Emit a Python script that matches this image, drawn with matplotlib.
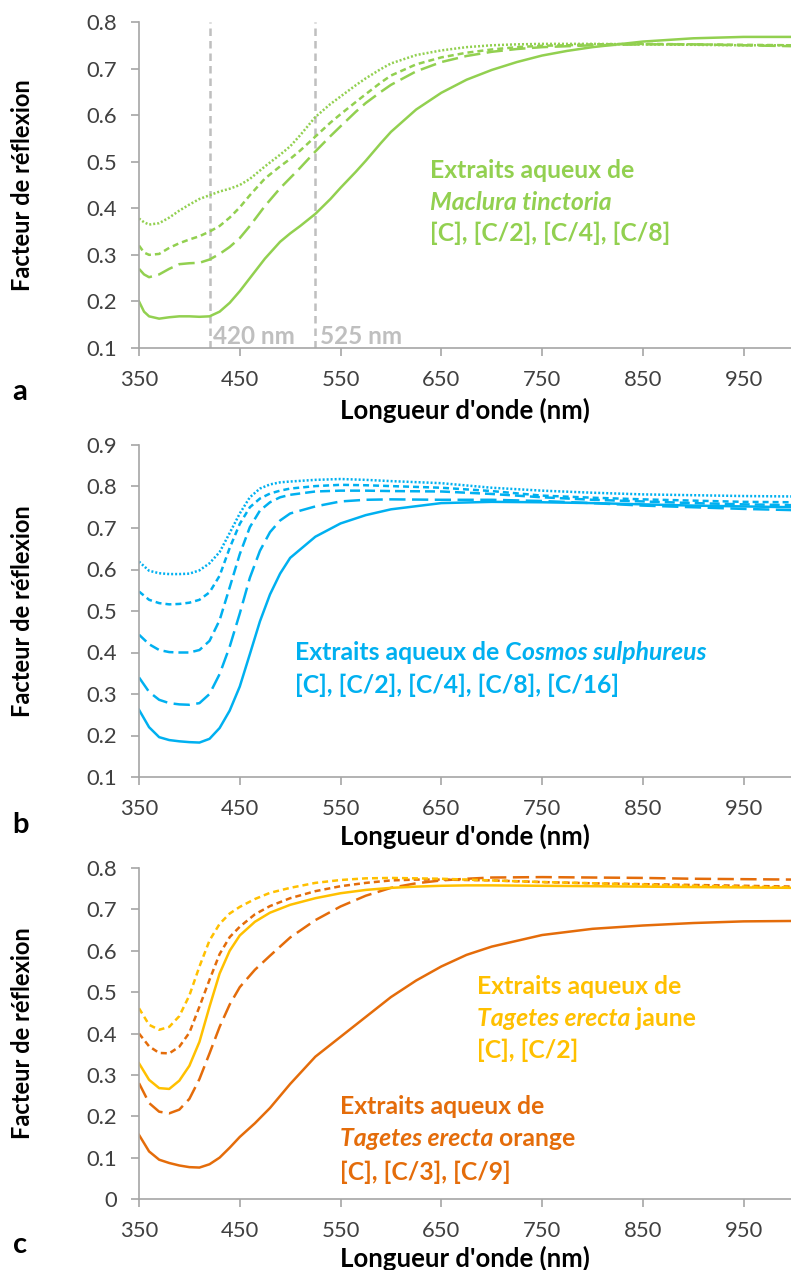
import matplotlib
matplotlib.use('Agg')
import matplotlib.pyplot as plt
from matplotlib.ticker import FuncFormatter

plt.rcParams['font.family'] = ['Lato', 'DejaVu Sans']

# ---- panel a : Maclura tinctoria ----
wl_a = [350, 355, 360, 370, 380, 390, 400, 410, 420, 430, 440, 450, 460, 475, 490,
        500, 510, 525, 540, 550, 565, 575, 590, 600, 625, 650, 675, 700, 725, 750,
        775, 800, 850, 900, 950, 1000]
mac_c = [0.200, 0.178, 0.168, 0.163, 0.166, 0.168, 0.168, 0.167, 0.168, 0.178, 0.197, 0.222,
         0.250, 0.292, 0.328, 0.346, 0.362, 0.388, 0.420, 0.444, 0.478, 0.502, 0.540, 0.564,
         0.612, 0.648, 0.676, 0.697, 0.714, 0.728, 0.738, 0.746, 0.758, 0.765, 0.768, 0.768]
mac_c2 = [0.270, 0.258, 0.252, 0.258, 0.270, 0.280, 0.282, 0.283, 0.290, 0.302, 0.317, 0.336,
          0.362, 0.405, 0.443, 0.465, 0.487, 0.522, 0.555, 0.576, 0.607, 0.626, 0.650, 0.665,
          0.694, 0.714, 0.727, 0.736, 0.742, 0.746, 0.748, 0.750, 0.752, 0.752, 0.750, 0.748]
mac_c4 = [0.320, 0.305, 0.300, 0.302, 0.315, 0.325, 0.333, 0.340, 0.350, 0.362, 0.380, 0.402,
          0.428, 0.464, 0.490, 0.506, 0.524, 0.554, 0.584, 0.602, 0.628, 0.645, 0.670, 0.685,
          0.709, 0.724, 0.734, 0.741, 0.746, 0.749, 0.750, 0.752, 0.753, 0.752, 0.751, 0.750]
mac_c8 = [0.378, 0.370, 0.365, 0.368, 0.380, 0.395, 0.408, 0.420, 0.428, 0.436, 0.442, 0.450,
          0.463, 0.490, 0.515, 0.533, 0.557, 0.596, 0.624, 0.640, 0.664, 0.679, 0.699, 0.711,
          0.729, 0.739, 0.746, 0.750, 0.752, 0.753, 0.753, 0.753, 0.752, 0.751, 0.750, 0.750]
marker_nm = [420, 525]

# ---- panel b : Cosmos sulphureus ----
wl_b = [350, 360, 370, 380, 390, 400, 410, 420, 430, 440, 450, 460, 470, 480, 490, 500,
        525, 550, 575, 600, 650, 700, 750, 800, 850, 900, 950, 1000]
cos_c = [0.262, 0.220, 0.196, 0.189, 0.186, 0.184, 0.183, 0.192, 0.218, 0.260, 0.318, 0.396,
         0.475, 0.540, 0.590, 0.628, 0.679, 0.711, 0.731, 0.745, 0.760, 0.763, 0.762, 0.760,
         0.757, 0.754, 0.752, 0.750]
cos_c2 = [0.340, 0.305, 0.286, 0.278, 0.275, 0.274, 0.278, 0.300, 0.348, 0.414, 0.494, 0.580,
          0.645, 0.690, 0.718, 0.735, 0.752, 0.764, 0.768, 0.769, 0.768, 0.768, 0.765, 0.760,
          0.754, 0.750, 0.746, 0.743]
cos_c4 = [0.443, 0.420, 0.406, 0.401, 0.400, 0.400, 0.406, 0.428, 0.478, 0.557, 0.637, 0.702,
          0.742, 0.762, 0.774, 0.780, 0.788, 0.790, 0.790, 0.789, 0.788, 0.782, 0.774, 0.768,
          0.764, 0.760, 0.757, 0.755]
cos_c8 = [0.547, 0.527, 0.519, 0.516, 0.517, 0.520, 0.527, 0.545, 0.585, 0.652, 0.710, 0.750,
          0.771, 0.783, 0.790, 0.795, 0.801, 0.804, 0.803, 0.801, 0.797, 0.789, 0.778, 0.773,
          0.769, 0.766, 0.763, 0.762]
cos_c16 = [0.619, 0.597, 0.591, 0.589, 0.589, 0.590, 0.598, 0.615, 0.642, 0.688, 0.735, 0.774,
           0.795, 0.805, 0.810, 0.812, 0.816, 0.818, 0.816, 0.813, 0.808, 0.797, 0.790, 0.785,
           0.781, 0.779, 0.777, 0.776]

# ---- panel c : Tagetes erecta ----
wl_c = [350, 360, 370, 380, 390, 400, 410, 420, 430, 440, 450, 465, 480, 500, 525, 550, 575,
        600, 625, 650, 675, 700, 750, 800, 850, 900, 950, 1000]
jau_c = [0.328, 0.288, 0.268, 0.266, 0.286, 0.322, 0.380, 0.465, 0.545, 0.600, 0.637, 0.670,
         0.692, 0.711, 0.727, 0.739, 0.747, 0.752, 0.755, 0.757, 0.758, 0.758, 0.757, 0.756,
         0.755, 0.754, 0.753, 0.752]
jau_c2 = [0.461, 0.421, 0.409, 0.416, 0.442, 0.492, 0.562, 0.625, 0.665, 0.690, 0.706, 0.725,
          0.740, 0.752, 0.764, 0.771, 0.775, 0.776, 0.775, 0.774, 0.772, 0.770, 0.766, 0.763,
          0.760, 0.757, 0.755, 0.753]
ora_c = [0.155, 0.115, 0.095, 0.087, 0.081, 0.077, 0.076, 0.084, 0.100, 0.124, 0.150, 0.183,
         0.220, 0.278, 0.344, 0.392, 0.440, 0.488, 0.528, 0.562, 0.590, 0.610, 0.638, 0.653,
         0.661, 0.667, 0.671, 0.672]
ora_c3 = [0.280, 0.232, 0.211, 0.207, 0.216, 0.242, 0.290, 0.352, 0.416, 0.470, 0.512, 0.554,
          0.588, 0.632, 0.674, 0.707, 0.733, 0.752, 0.763, 0.770, 0.774, 0.777, 0.778, 0.777,
          0.776, 0.774, 0.773, 0.772]
ora_c9 = [0.400, 0.369, 0.353, 0.352, 0.368, 0.402, 0.465, 0.530, 0.592, 0.633, 0.658, 0.688,
          0.708, 0.727, 0.744, 0.756, 0.764, 0.770, 0.772, 0.772, 0.771, 0.770, 0.766, 0.763,
          0.761, 0.759, 0.757, 0.755]

GREEN = '#92D050'
BLUE = '#00B0F0'
YELLOW = '#FFC000'
ORANGE = '#E46C0A'
GREY = '#BFBFBF'

SOLID = '-'
LONG = (0, (6.5, 2.6))
MED = (0, (4, 2))
SHORT = (0, (2.4, 1.6))
DOT = (0, (0.8, 0.8))

W, H = 791, 1270
fig = plt.figure(figsize=(W / 100, H / 100), dpi=100)


def fx(px):
    return px / W


def fy(py):
    return 1 - py / H


def make_axes(top, bottom, ylim, yticks):
    ax = fig.add_axes([fx(139), fy(bottom), fx(W) - fx(139), (bottom - top) / H])
    ax.set_xlim(350, 997)
    ax.set_ylim(*ylim)
    ax.set_xticks(range(350, 1000, 100))
    ax.set_yticks(yticks)
    ax.yaxis.set_major_formatter(FuncFormatter(lambda v, p: f"{v:g}"))
    for s in ['top', 'right']:
        ax.spines[s].set_visible(False)
    for s in ['left', 'bottom']:
        ax.spines[s].set_color('#A6A6A6')
        ax.spines[s].set_linewidth(1.2)
    ax.tick_params(direction='out', length=6, width=1.2, color='#A6A6A6',
                   labelsize=15.8, labelcolor='#404040', pad=10)
    return ax


def labels(letter, top, bottom, letter_y, xlabel_y):
    fig.text(fx(23), fy((top + bottom) / 2), 'Facteur de réflexion', rotation=90,
             ha='center', va='center', fontsize=17, fontweight='bold')
    fig.text(fx(465), fy(xlabel_y), "Longueur d'onde (nm)", ha='center', va='center',
             fontsize=18.5, fontweight='bold')
    fig.text(fx(20), fy(letter_y), letter, ha='center', va='baseline',
             fontsize=21, fontweight='bold')


def rich_line(ax, x, y, parts, color, size=17.8):
    prev = None
    for txt, style in parts:
        if prev is None:
            prev = fig.text(fx(x), fy(y), txt, ha='left', va='center', color=color,
                            fontsize=size, fontweight='bold', fontstyle=style)
        else:
            prev = ax.annotate(txt, xy=(1, 0), xycoords=prev, ha='left', va='bottom',
                               color=color, fontsize=size, fontweight='bold', fontstyle=style)


# panel a
ax = make_axes(22, 348, (0.1, 0.8), [0.1, 0.2, 0.3, 0.4, 0.5, 0.6, 0.7, 0.8])
for nm in marker_nm:
    ax.axvline(nm, color=GREY, lw=1.8, ls=(0, (3, 2)))
ax.text(423, 0.124, '420 nm', color=GREY, fontsize=17.5, fontweight='bold', va='center')
ax.text(530, 0.124, '525 nm', color=GREY, fontsize=17.5, fontweight='bold', va='center')
for ys, ls in [(mac_c, SOLID), (mac_c2, LONG), (mac_c4, SHORT), (mac_c8, DOT)]:
    ax.plot(wl_a, ys, color=GREEN, lw=1.8, ls=ls)
rich_line(ax, 430, 170, [('Extraits aqueux de', 'normal')], GREEN)
rich_line(ax, 430, 202, [('Maclura tinctoria', 'italic')], GREEN)
rich_line(ax, 430, 233, [('[C], [C/2], [C/4], [C/8]', 'normal')], GREEN)
labels('a', 22, 348, 400, 410)

# panel b
ax = make_axes(445, 777, (0.1, 0.9), [0.1, 0.2, 0.3, 0.4, 0.5, 0.6, 0.7, 0.8, 0.9])
for ys, ls in [(cos_c, SOLID), (cos_c2, LONG), (cos_c4, MED), (cos_c8, SHORT), (cos_c16, DOT)]:
    ax.plot(wl_b, ys, color=BLUE, lw=1.8, ls=ls)
rich_line(ax, 295, 653, [('Extraits aqueux de C', 'normal'), ('osmos sulphureus', 'italic')], BLUE)
rich_line(ax, 295, 685, [('[C], [C/2], [C/4], [C/8], [C/16]', 'normal')], BLUE)
labels('b', 445, 777, 833, 836)

# panel c
ax = make_axes(868, 1199, (0, 0.8), [0, 0.1, 0.2, 0.3, 0.4, 0.5, 0.6, 0.7, 0.8])
for ys, ls, col in [(ora_c, SOLID, ORANGE), (ora_c3, LONG, ORANGE), (ora_c9, SHORT, ORANGE),
                    (jau_c, SOLID, YELLOW), (jau_c2, SHORT, YELLOW)]:
    ax.plot(wl_c, ys, color=col, lw=1.8, ls=ls)
rich_line(ax, 477, 987, [('Extraits aqueux de', 'normal')], YELLOW)
rich_line(ax, 477, 1018, [('Tagetes erecta', 'italic'), (' jaune', 'normal')], YELLOW)
rich_line(ax, 477, 1050, [('[C], [C/2]', 'normal')], YELLOW)
rich_line(ax, 340, 1107, [('Extraits aqueux de', 'normal')], ORANGE)
rich_line(ax, 340, 1139, [('Tagetes erecta', 'italic'), (' orange', 'normal')], ORANGE)
rich_line(ax, 340, 1172, [('[C], [C/3], [C/9]', 'normal')], ORANGE)
labels('c', 868, 1199, 1253, 1258)

fig.savefig('out.png', dpi=100)
